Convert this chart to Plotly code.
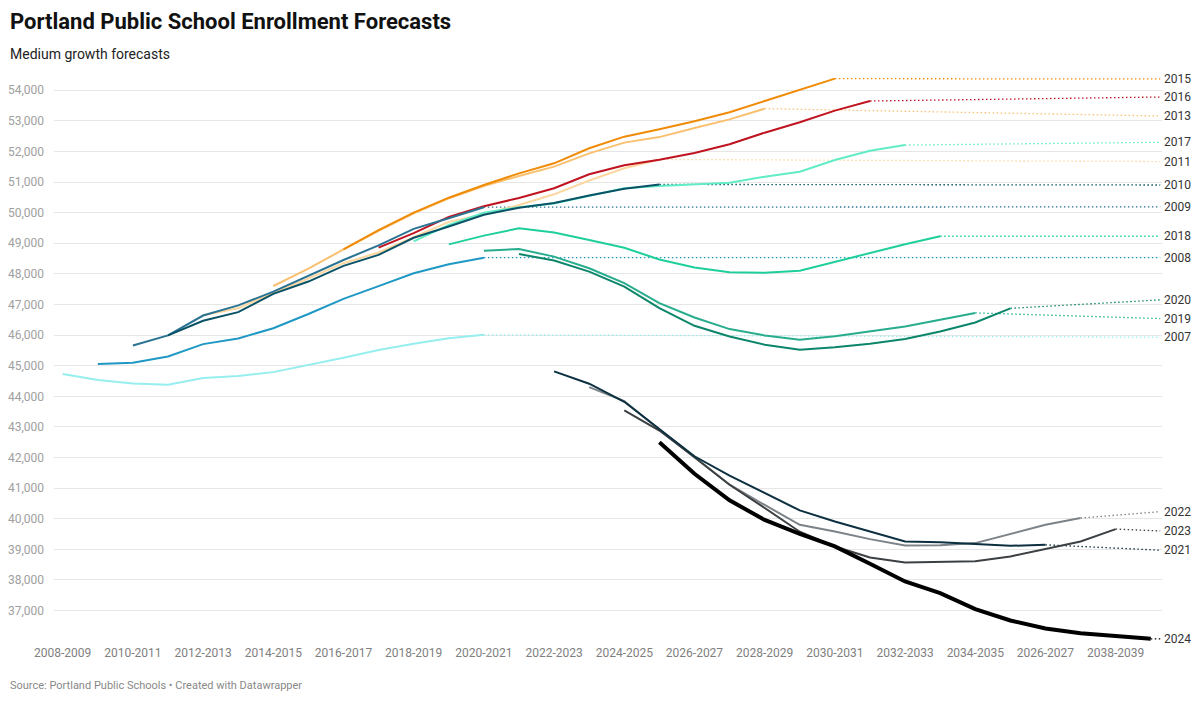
import plotly.graph_objects as go

# x axis: school years, keyed by their start year
tick_years = list(range(2008, 2040, 2))
tick_text = ['2008-2009', '2010-2011', '2012-2013', '2014-2015', '2016-2017',
             '2018-2019', '2020-2021', '2022-2023', '2024-2025', '2026-2027',
             '2028-2029', '2030-2031', '2032-2033', '2034-2035', '2026-2027',
             '2038-2039']
y_ticks = list(range(37000, 54001, 1000))

# forecast enrollment, one list per forecast year (first school year in start_years)
forecast_2007 = [44730, 44530, 44420, 44380, 44600, 44660, 44790, 45020, 45260,
                 45510, 45720, 45900, 46010]
forecast_2008 = [45055, 45100, 45300, 45705, 45890, 46225, 46690, 47185, 47600,
                 48020, 48315, 48530]
forecast_2009 = [45660, 45990, 46640, 46970, 47420, 47935, 48455, 48930, 49470,
                 49820, 50180]
forecast_2010 = [45990, 46467, 46750, 47348, 47750, 48261, 48620, 49180, 49550,
                 49935, 50163, 50315, 50565, 50783, 50924]
forecast_2011 = [46650, 46880, 47380, 47850, 48350, 48700, 49200, 49700, 49950,
                 50250, 50600, 51050, 51450, 51740]
forecast_2013 = [47605, 48170, 48800, 49410, 49980, 50470, 50870, 51200, 51504,
                 51940, 52290, 52470, 52770, 53050, 53400]
forecast_2015 = [48800, 49430, 50000, 50490, 50905, 51286, 51613, 52104, 52485,
                 52725, 52990, 53280, 53650, 54010, 54380]
forecast_2016 = [48860, 49330, 49865, 50210, 50480, 50800, 51255, 51548, 51730,
                 51950, 52235, 52615, 52955, 53335, 53650]
forecast_2017 = [49060, 49600, 50000, 50180, 50300, 50560, 50800, 50870, 50935,
                 50980, 51175, 51340, 51720, 52025, 52210]
forecast_2018 = [48965, 49250, 49490, 49350, 49110, 48855, 48470, 48210, 48050,
                 48040, 48105, 48400, 48695, 48970, 49230]
forecast_2019 = [48760, 48815, 48565, 48185, 47696, 47043, 46576, 46196, 45989,
                 45848, 45965, 46120, 46283, 46500, 46725]
forecast_2020 = [48650, 48435, 48076, 47587, 46880, 46304, 45957, 45685, 45522,
                 45600, 45717, 45870, 46120, 46413, 46875]
forecast_2021 = [44815, 44411, 43820, 42940, 42040, 41410, 40840, 40270, 39910,
                 39583, 39257, 39234, 39180, 39114, 39147]
forecast_2022 = [44300, 43840, 42910, 42010, 41110, 40450, 39800, 39583, 39333,
                 39125, 39136, 39202, 39507, 39801, 40020]
forecast_2023 = [43540, 42880, 42010, 41110, 40350, 39575, 39093, 38733, 38570,
                 38602, 38613, 38766, 39005, 39257, 39660]
forecast_2024 = [42500, 41470, 40600, 39960, 39507, 39093, 38526, 37948, 37567,
                 37044, 36673, 36411, 36259, 36150, 36074]

start_years = {2007: 2008, 2008: 2009, 2009: 2010, 2010: 2011, 2011: 2012,
               2013: 2014, 2015: 2016, 2016: 2017, 2017: 2018, 2018: 2019,
               2019: 2020, 2020: 2021, 2021: 2022, 2022: 2023, 2023: 2024,
               2024: 2025}

forecasts = {2007: forecast_2007, 2008: forecast_2008, 2009: forecast_2009,
             2010: forecast_2010, 2011: forecast_2011, 2013: forecast_2013,
             2015: forecast_2015, 2016: forecast_2016, 2017: forecast_2017,
             2018: forecast_2018, 2019: forecast_2019, 2020: forecast_2020,
             2021: forecast_2021, 2022: forecast_2022, 2023: forecast_2023,
             2024: forecast_2024}

# styling / layout
colors = {2007: '#96eeee', 2008: '#1f98c4', 2009: '#2a7393', 2010: '#0a5367',
          2011: '#fdd7a0', 2013: '#f9c070', 2015: '#ef8b06', 2016: '#bf1420',
          2017: '#62ecc6', 2018: '#1fcf9b', 2019: '#27ad8d', 2020: '#0c866a',
          2021: '#0d3040', 2022: '#7c8388', 2023: '#3c4043', 2024: '#000000'}

# where datawrapper pushed the right hand labels so they don't collide
label_y = {2015: 54370, 2016: 53780, 2013: 53160, 2017: 52300, 2011: 51670,
           2010: 50905, 2009: 50190, 2018: 49230, 2008: 48530, 2020: 47150,
           2019: 46540, 2007: 45930, 2022: 40230, 2023: 39600, 2021: 38970,
           2024: 36070}

draw_order = [2007, 2011, 2017, 2013, 2008, 2018, 2019, 2020, 2015, 2016,
              2009, 2010, 2022, 2023, 2021, 2024]

X_RANGE = [2007.752, 2039.32]
Y_RANGE = [35938, 54565]
FONT = 'Roboto'
TEXT_X = -0.0415  # left edge of header/footer, in plot-width units


def add_connectors(fig):
    """Dotted lines from the end of each forecast to its label."""
    for key in draw_order:
        values = forecasts[key]
        last_year = start_years[key] + len(values) - 1
        fig.add_trace(go.Scatter(x=[last_year, X_RANGE[1] - 0.05],
                                 y=[values[-1], label_y[key]],
                                 mode='lines', hoverinfo='skip', showlegend=False,
                                 line=dict(color=colors[key], width=1.3,
                                           dash='1.5px,2.5px')))


def add_forecasts(fig):
    for key in draw_order:
        values = forecasts[key]
        years = list(range(start_years[key], start_years[key] + len(values)))
        fig.add_trace(go.Scatter(x=years, y=values, mode='lines', name=str(key),
                                 showlegend=False,
                                 line=dict(color=colors[key],
                                           width=4 if key == 2024 else 2)))
        fig.add_annotation(x=X_RANGE[1], y=label_y[key], text=str(key),
                           xanchor='left', yanchor='middle', xshift=0,
                           showarrow=False,
                           font=dict(family=FONT, size=12, color='#333333'))


fig = go.Figure()
add_connectors(fig)
add_forecasts(fig)

# the page body adds an 8px margin, so the figure is 8px smaller on each side
fig.update_layout(
    width=1192, height=695,
    margin=dict(l=46, r=38, t=65, b=60, autoexpand=False),
    paper_bgcolor='white', plot_bgcolor='white',
    font=dict(family=FONT),
    xaxis=dict(range=X_RANGE, tickmode='array', tickvals=tick_years,
               ticktext=tick_text, showgrid=False, zeroline=False,
               showline=False, ticks='', ticklabelstandoff=1, automargin=False,
               tickfont=dict(size=12, color='#808080')),
    yaxis=dict(range=Y_RANGE, tickmode='array', tickvals=y_ticks,
               tickformat=',', showgrid=True, gridcolor='#e6e6e6',
               gridwidth=1, zeroline=False, showline=False, ticks='',
               ticklabelstandoff=9, automargin=False,
               tickfont=dict(size=12, color='#a0a0a0')),
)

fig.add_annotation(xref='paper', yref='paper', x=TEXT_X, y=1.0895,
                   xanchor='left', yanchor='middle', showarrow=False,
                   text='<b>Portland Public School Enrollment Forecasts</b>',
                   font=dict(family=FONT, size=22, color='#111111'))
fig.add_annotation(xref='paper', yref='paper', x=TEXT_X, y=1.0333,
                   xanchor='left', yanchor='middle', showarrow=False,
                   text='Medium growth forecasts',
                   font=dict(family=FONT, size=14, color='#222222'))
fig.add_annotation(xref='paper', yref='paper', x=TEXT_X, y=-0.0754,
                   xanchor='left', yanchor='middle', showarrow=False,
                   text='Source: Portland Public Schools \u2022 Created with Datawrapper',
                   font=dict(family=FONT, size=11, color='#888888'))

fig.write_html('out.html')
